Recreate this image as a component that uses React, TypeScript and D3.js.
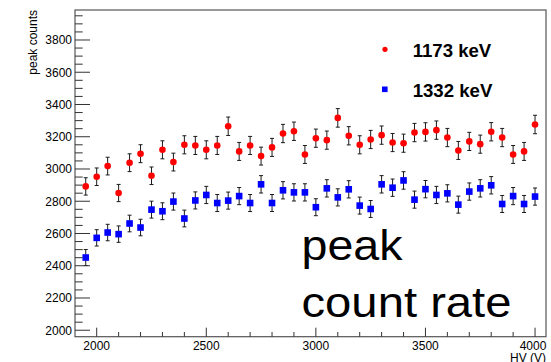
import React from "react";
import * as d3 from "d3";

// High-voltage settings (V)
const hvSettings = [
  1950, 2000, 2050, 2100, 2150, 2200, 2250, 2300, 2350, 2400, 2450, 2500, 2550, 2600,
  2650, 2700, 2750, 2800, 2850, 2900, 2950, 3000, 3050, 3100, 3150, 3200, 3250, 3300,
  3350, 3400, 3450, 3500, 3550, 3600, 3650, 3700, 3750, 3800, 3850, 3900, 3950, 4000,
];

// Peak counts for the 1173 keV line
const counts1173 = [
  2892, 2952, 3018, 2851, 3039, 3095, 2958, 3119, 3043, 3150, 3146, 3119, 3146, 3265,
  3109, 3146, 3080, 3134, 3220, 3234, 3090, 3191, 3179, 3317, 3206, 3150, 3183, 3210,
  3164, 3160, 3226, 3230, 3241, 3195, 3115, 3171, 3154, 3231, 3195, 3090, 3109, 3276,
];

// Peak counts for the 1332 keV line
const counts1332 = [
  2451, 2573, 2606, 2596, 2662, 2637, 2748, 2738, 2798, 2693, 2805, 2839, 2789, 2804,
  2832, 2789, 2905, 2789, 2868, 2855, 2855, 2763, 2880, 2824, 2874, 2773, 2752, 2905,
  2884, 2929, 2810, 2875, 2839, 2849, 2779, 2860, 2880, 2899, 2783, 2832, 2783, 2829,
];

const xMajorTicks = [2000, 2500, 3000, 3500, 4000];
const xMinorTicks = [2100, 2200, 2300, 2400, 2600, 2700, 2800, 2900, 3100, 3200, 3300, 3400, 3600, 3700, 3800, 3900];
const yMajorTicks = [2000, 2200, 2400, 2600, 2800, 3000, 3200, 3400, 3600, 3800];
const yMinorTicks = [
  2050, 2100, 2150, 2250, 2300, 2350, 2450, 2500, 2550, 2650, 2700, 2750, 2850, 2900, 2950,
  3050, 3100, 3150, 3250, 3300, 3350, 3450, 3500, 3550, 3650, 3700, 3750, 3850, 3900, 3950,
];

const legendLabels = ["1173 keV", "1332 keV"];

const W = 551;
const H = 362;
const frame = { left: 75, right: 546, top: 10, bottom: 336.7 };
const font = "'Liberation Sans', Arial, Helvetica, sans-serif";

export default function App() {
  const x = d3.scaleLinear().domain([1901, 4050]).range([frame.left, frame.right]);
  const y = d3.scaleLinear().domain([1960, 3986]).range([frame.bottom, frame.top]);

  const errBars = (vals: number[], key: string) =>
    vals.map((v, i) => {
      const e = Math.sqrt(v);
      const cx = x(hvSettings[i]);
      const y1 = y(v + e);
      const y0 = y(v - e);
      return (
        <g key={key + i} stroke="#1a1a1a" strokeWidth={1}>
          <line x1={cx} x2={cx} y1={y1} y2={y0} />
          <line x1={cx - 2} x2={cx + 2} y1={y1} y2={y1} />
          <line x1={cx - 2} x2={cx + 2} y1={y0} y2={y0} />
        </g>
      );
    });

  return (
    <div style={{ position: "fixed", left: 0, top: 0 }}>
      <svg width={W} height={H} style={{ display: "block", background: "#fff" }}>
        <rect x={0} y={0} width={W} height={H} fill="#fff" />

        {/* error bars */}
        {errBars(counts1173, "r")}
        {errBars(counts1332, "b")}

        {/* markers */}
        {counts1173.map((v, i) => (
          <circle key={"rc" + i} cx={x(hvSettings[i])} cy={y(v)} r={3.3} fill="#ff0000" />
        ))}
        {counts1332.map((v, i) => (
          <rect
            key={"bs" + i}
            x={x(hvSettings[i]) - 3.3}
            y={y(v) - 3.3}
            width={6.6}
            height={6.6}
            fill="#0000ff"
          />
        ))}

        {/* frame */}
        <rect
          x={frame.left}
          y={frame.top}
          width={frame.right - frame.left}
          height={frame.bottom - frame.top}
          fill="none"
          stroke="#555"
          strokeWidth={1.2}
        />

        {/* axis ticks */}
        <g stroke="#333" strokeWidth={1}>
          {yMajorTicks.map((t) => (
            <line key={"ym" + t} x1={frame.left} x2={frame.left + 15} y1={y(t)} y2={y(t)} />
          ))}
          {yMinorTicks.map((t) => (
            <line key={"yn" + t} x1={frame.left} x2={frame.left + 7.7} y1={y(t)} y2={y(t)} />
          ))}
          {xMajorTicks.map((t) => (
            <line key={"xm" + t} x1={x(t)} x2={x(t)} y1={frame.bottom} y2={frame.bottom - 9} />
          ))}
          {xMinorTicks.map((t) => (
            <line key={"xn" + t} x1={x(t)} x2={x(t)} y1={frame.bottom} y2={frame.bottom - 4.7} />
          ))}
        </g>

        {/* tick labels and axis titles */}
        <g fontFamily={font} fontSize={12} fill="#000">
          {yMajorTicks.map((t) => (
            <text key={"yl" + t} x={frame.left - 3} y={y(t) + 4.3} textAnchor="end">
              {t}
            </text>
          ))}
          {xMajorTicks.map((t) => (
            <text key={"xl" + t} x={t === 4000 ? x(t) - 2 : x(t)} y={350} textAnchor="middle">
              {t}
            </text>
          ))}
          <text x={frame.right} y={362} textAnchor="end">
            HV (V)
          </text>
          <text transform="translate(37,10) rotate(-90)" textAnchor="end">
            peak counts
          </text>
        </g>

        {/* legend */}
        <circle cx={385} cy={49.3} r={2.6} fill="#ff0000" />
        <rect x={382} y={86.5} width={5.6} height={5.6} fill="#0000ff" />
        <g fontFamily={font} fontSize={18.6} fontWeight="bold" fill="#000">
          <text x={412.7} y={56.9}>{legendLabels[0]}</text>
          <text x={412.7} y={96.9}>{legendLabels[1]}</text>
        </g>

        {/* annotation */}
        <g fontFamily={font} fontSize={43} fill="#000">
          <text x={301.5} y={260} textLength={101} lengthAdjust="spacingAndGlyphs">
            peak
          </text>
          <text x={301.5} y={316.7} textLength={210} lengthAdjust="spacingAndGlyphs">
            count rate
          </text>
        </g>
      </svg>
    </div>
  );
}
